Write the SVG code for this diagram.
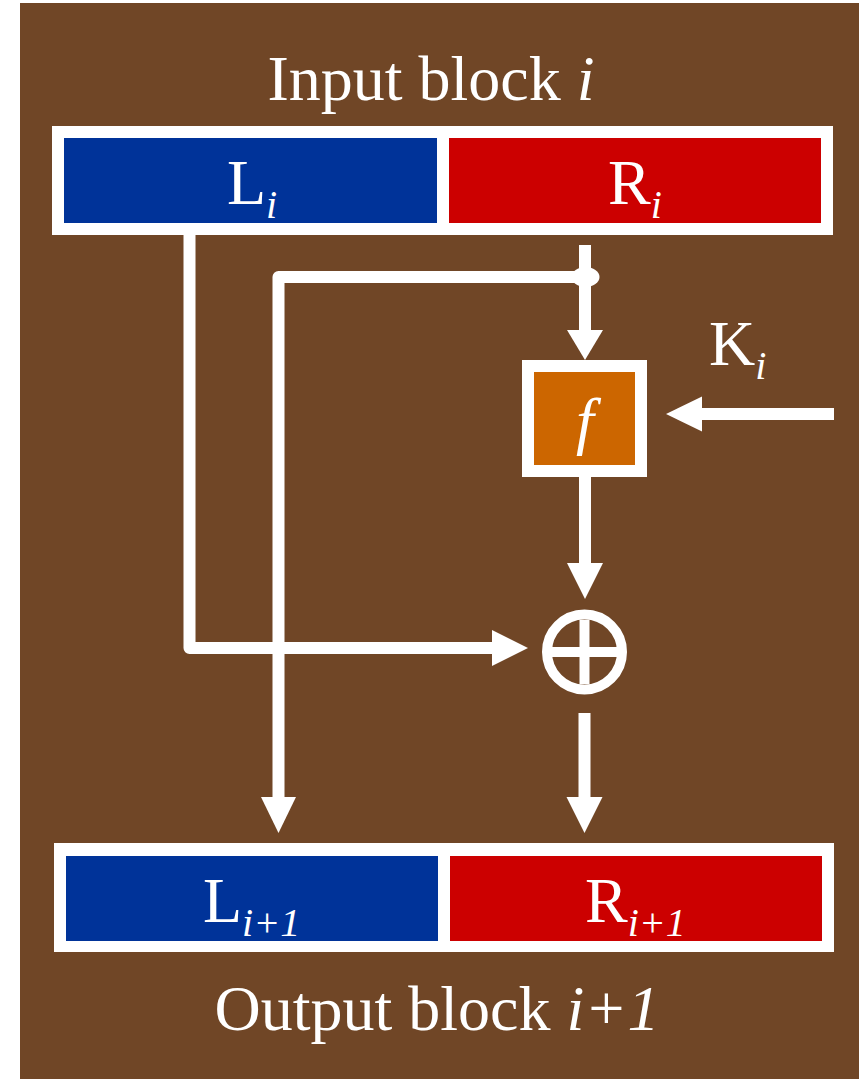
<svg xmlns="http://www.w3.org/2000/svg" width="859" height="1079" viewBox="0 0 859 1079">
  <style>
    .lbl { font-family: "Liberation Serif", "Times New Roman", serif; fill: #ffffff; font-size: 64px; }
    .sub { font-size: 40px; font-style: italic; }
    .it { font-style: italic; }
    .wire { fill: none; stroke: #ffffff; stroke-width: 12; stroke-linejoin: round; }
    .head { fill: #ffffff; }
    .frame { fill: #ffffff; }
  </style>
  <rect x="0" y="0" width="859" height="1079" fill="#ffffff"/>
  <rect x="20" y="3" width="839" height="1076" fill="#704626"/>

  <g id="title-in">
    <text class="lbl" x="431" y="100" text-anchor="middle">Input block <tspan class="it">i</tspan></text>
  </g>

  <g id="input-block">
    <rect class="frame" x="52" y="126" width="781" height="109"/>
    <g id="Li">
      <rect x="64" y="138" width="373" height="85" fill="#003399"/>
      <text class="lbl" x="227" y="204">L<tspan class="sub" dy="14">i</tspan></text>
    </g>
    <g id="Ri">
      <rect x="449" y="138" width="372" height="85" fill="#cc0000"/>
      <text class="lbl" x="608" y="204">R<tspan class="sub" dy="14">i</tspan></text>
    </g>
  </g>

  <g id="f-box">
    <rect class="frame" x="522" y="360" width="125" height="117"/>
    <rect x="534" y="372" width="101" height="93" fill="#cc6600"/>
    <text class="lbl it" x="585" y="442" text-anchor="middle" font-size="66">f</text>
  </g>

  <g id="xor">
    <circle cx="584.5" cy="652" r="37.5" fill="none" stroke="#ffffff" stroke-width="10"/>
    <line x1="584.5" y1="620" x2="584.5" y2="684" stroke="#ffffff" stroke-width="10"/>
    <line x1="552" y1="652" x2="617" y2="652" stroke="#ffffff" stroke-width="10"/>
  </g>

  <g id="key">
    <text class="lbl" x="709" y="365">K<tspan class="sub" dy="14">i</tspan></text>
  </g>

  <g id="output-block">
    <rect class="frame" x="54" y="843" width="780" height="109"/>
    <g id="Li1">
      <rect x="66" y="856" width="372" height="85" fill="#003399"/>
      <text class="lbl" x="203" y="922">L<tspan class="sub" dy="14">i+1</tspan></text>
    </g>
    <g id="Ri1">
      <rect x="450" y="856" width="372" height="85" fill="#cc0000"/>
      <text class="lbl" x="585" y="922">R<tspan class="sub" dy="14">i+1</tspan></text>
    </g>
  </g>

  <g id="title-out">
    <text class="lbl" x="437" y="1030" text-anchor="middle">Output block <tspan class="it">i+1</tspan></text>
  </g>

  <g id="connectors">
    <polyline class="wire" points="189.5,235 189.5,648 493,648"/>
    <polygon class="head" points="492,630 528,648 492,666"/>
    <line class="wire" x1="585" y1="245" x2="585" y2="331"/>
    <polygon class="head" points="567,330 603,330 585,360"/>
    <polyline class="wire" points="585,277 278.5,277 278.5,798"/>
    <ellipse cx="585.5" cy="277" rx="14" ry="10" fill="#ffffff"/>
    <polygon class="head" points="261,797 296,797 278.5,833"/>
    <line x1="834" y1="414" x2="701" y2="414" stroke="#ffffff" stroke-width="12"/>
    <polygon class="head" points="702,396.5 702,431.5 666,414"/>
    <line class="wire" x1="585" y1="477" x2="585" y2="564"/>
    <polygon class="head" points="567,563 603,563 585,599"/>
    <line class="wire" x1="584.5" y1="713" x2="584.5" y2="798"/>
    <polygon class="head" points="566.5,797 602.5,797 584.5,833"/>
  </g>
</svg>
